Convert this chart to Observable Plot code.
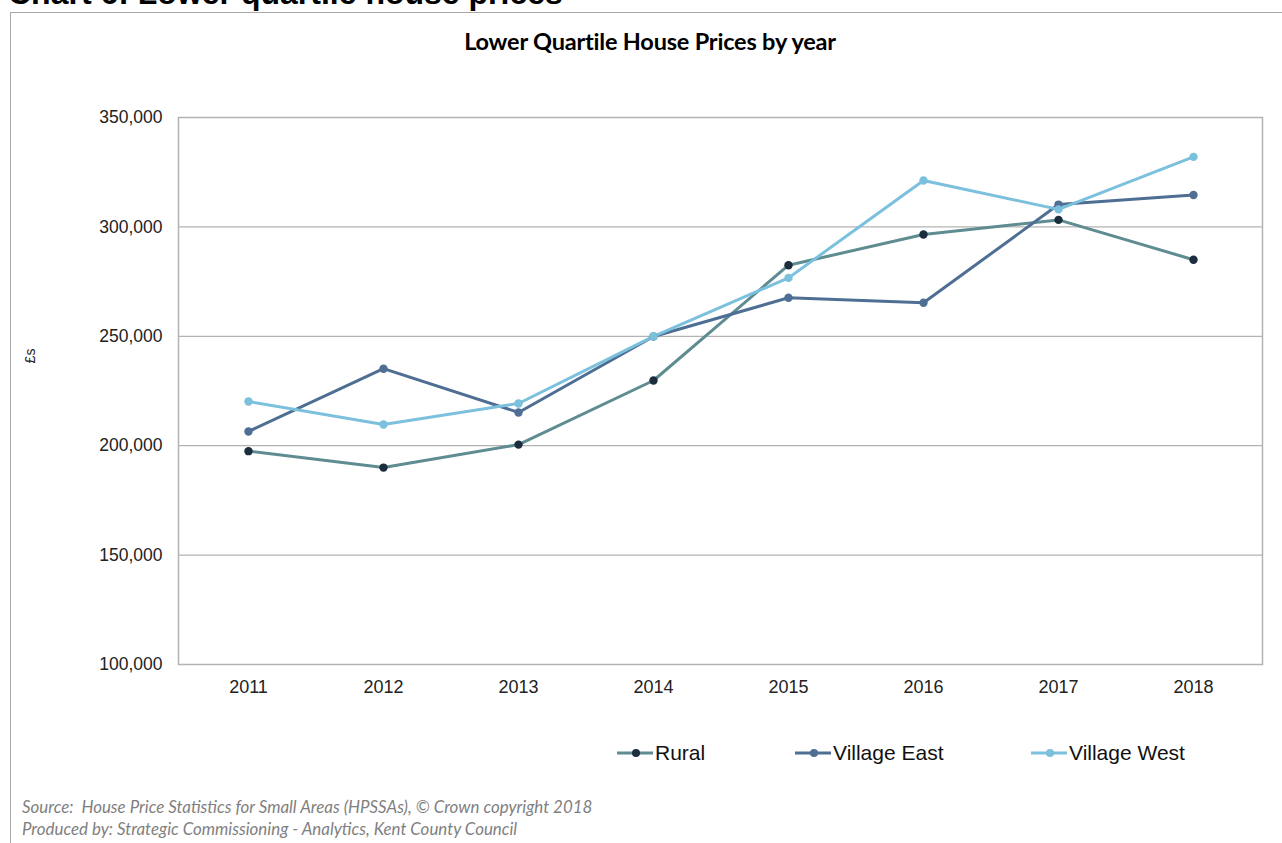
<!DOCTYPE html>
<html><head><meta charset="utf-8">
<script src="https://cdn.jsdelivr.net/npm/d3@7"></script>
<script src="https://cdn.jsdelivr.net/npm/@observablehq/plot@0.6"></script>
<style>
body{margin:0;background:#fff;width:1282px;height:843px;overflow:hidden;position:relative;font-family:"Liberation Sans",Arial,sans-serif}
#frame{position:absolute;left:10px;top:12px;width:1290px;height:900px;border-left:1.5px solid #a8a8a8;border-top:1.5px solid #a8a8a8}
#heading{position:absolute;left:8px;top:-25px;font:bold 32px "Liberation Sans",Arial,sans-serif;color:#000;white-space:nowrap;line-height:36px}
#title{position:absolute;left:0;width:1300px;top:27px;text-align:center;font:bold 23.5px Lato,"Open Sans",sans-serif;color:#000;letter-spacing:-0.2px}
#chart{position:absolute;left:0;top:0}
#ylab{position:absolute;left:23px;top:348px;font-size:14px;color:#222;transform:rotate(-90deg);transform-origin:center}
#legend{position:absolute;top:739px;left:0;width:1282px;height:28px}
.li{position:absolute;top:0;display:flex;align-items:center;font-size:21px;color:#111}
.li svg{margin-right:2px}
#foot{position:absolute;left:22px;top:796px;font:italic 16.9px Lato,"Open Sans",sans-serif;color:#7f7f7f;line-height:22px;letter-spacing:0px}
</style></head><body>
<div id="frame"></div>
<div id="heading">Chart 6: Lower quartile house prices</div>
<div id="title">Lower Quartile House Prices by year</div>
<div id="chart"></div>
<div id="ylab">£s</div>
<div id="legend"></div>
<div id="foot">Source:&nbsp; House Price Statistics for Small Areas (HPSSAs), © Crown copyright 2018<br>Produced by: Strategic Commissioning - Analytics, Kent County Council</div>
<script>
const years = ["2011","2012","2013","2014","2015","2016","2017","2018"];
const rural = [197500, 190000, 200500, 229800, 282500, 296500, 303200, 285000];
const villageEast = [206500, 235200, 215200, 249900, 267600, 265300, 310200, 314600];
const villageWest = [220200, 209700, 219300, 250000, 276700, 321200, 308000, 332000];
const seriesNames = ["Rural", "Village East", "Village West"];
const lineColors = ["#5e8c91", "#4e6e93", "#7bc0dd"];
const dotColors = ["#1c2d3d", "#4e6e93", "#7bc0dd"];
const yTicks = [100000, 150000, 200000, 250000, 300000, 350000];

const seriesValues = [rural, villageEast, villageWest];
const data = [];
seriesNames.forEach((s, i) => years.forEach((y, j) => data.push({series: s, year: y, value: seriesValues[i][j]})));

const chart = Plot.plot({
  width: 1282, height: 843,
  marginLeft: 178, marginRight: 20, marginTop: 117, marginBottom: 179,
  style: {background: "transparent", color: "#222", fontFamily: "'Liberation Sans', Arial, sans-serif"},
  x: {type: "point", domain: years, padding: 0.5},
  y: {domain: [100000, 350000]},
  color: {domain: seriesNames, range: lineColors},
  marks: [
    Plot.ruleY(yTicks.slice(1, -1), {stroke: "#b3b3b3", strokeWidth: 1.2}),
    Plot.frame({stroke: "#b3b3b3", strokeWidth: 1.5}),
    Plot.axisY({ticks: yTicks, tickFormat: d3.format(","), tickSize: 0, tickPadding: 16, fontSize: 17.5, label: null}),
    Plot.axisX({tickSize: 0, tickPadding: 16, fontSize: 18, label: null}),
    Plot.line(data, {x: "year", y: "value", z: "series", stroke: "series", strokeWidth: 3}),
    Plot.dot(data, {x: "year", y: "value", r: 4.2, fill: d => dotColors[seriesNames.indexOf(d.series)], stroke: "none"})
  ]
});
document.getElementById("chart").appendChild(chart);

const legendX = [617, 795, 1031];
const leg = document.getElementById("legend");
seriesNames.forEach((s, i) => {
  const d = document.createElement("div");
  d.className = "li";
  d.style.left = legendX[i] + "px";
  d.innerHTML = `<svg width="36" height="28"><line x1="0" x2="36" y1="14" y2="14" stroke="${lineColors[i]}" stroke-width="3"/><circle cx="19" cy="14" r="4" fill="${dotColors[i]}"/></svg><span>${s}</span>`;
  leg.appendChild(d);
});
</script>
</body></html>
